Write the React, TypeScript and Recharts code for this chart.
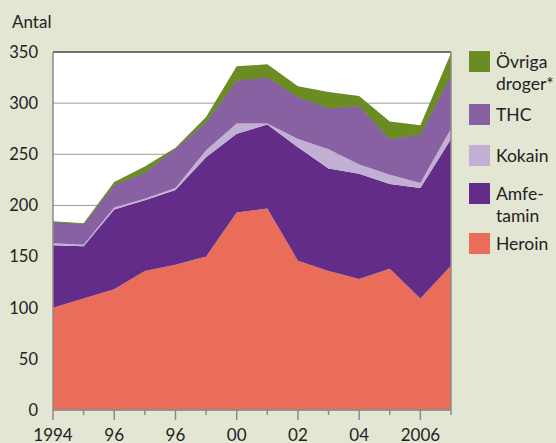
import React from 'react';
import { AreaChart, Area, XAxis, YAxis, CartesianGrid, ReferenceLine } from 'recharts';

const years = [1994, 1995, 1996, 1997, 1998, 1999, 2000, 2001, 2002, 2003, 2004, 2005, 2006, 2007];
const heroin = [100, 109, 118, 136, 142, 150, 193, 197, 146, 136, 128, 138, 109, 141];
const amfetamin = [61, 51, 78, 69, 73, 97, 77, 82, 111, 100, 103, 83, 108, 124];
const kokain = [2, 1.5, 2, 1.5, 2, 7, 10, 1, 8, 19, 9, 9, 5, 10];
const thc = [20.5, 20, 22, 25.5, 38.5, 27, 42, 45, 41, 40, 57, 35, 47, 52];
const ovriga = [1, 1, 3, 6, 1, 5.5, 14, 13, 10.5, 16, 10, 17, 9.5, 22];

const xLabelYears = [1994, 1996, 1998, 2000, 2002, 2004, 2006];
const xLabels = ['1994', '96', '96', '00', '02', '04', '2006'];
const yTicks = [0, 50, 100, 150, 200, 250, 300, 350];

const seriesKeys = ['heroin', 'amfetamin', 'kokain', 'thc', 'ovriga'];
const seriesNames = ['Heroin', 'Amfe-\ntamin', 'Kokain', 'THC', 'Övriga\ndroger*'];
const seriesColors = ['#e96d59', '#632c89', '#c1b0d4', '#8861a3', '#6b8c22'];

const data = years.map((year, i) => ({
  year,
  heroin: heroin[i],
  amfetamin: amfetamin[i],
  kokain: kokain[i],
  thc: thc[i],
  ovriga: ovriga[i],
}));

const FONT = 'Lato, "Open Sans", sans-serif';
const TEXT = '#222';
const AXIS = '#8a8a8a';

const legendOrder = [4, 3, 2, 1, 0];
const legendTops = [51, 104, 145, 183, 233];

function XTick(props: any) {
  const { x, y, payload } = props;
  const idx = xLabelYears.indexOf(payload.value);
  const major = idx >= 0;
  return (
    <g>
      <line x1={x} x2={x} y1={y} y2={y + (major ? 10 : 5)} stroke={AXIS} strokeWidth={1.5} />
      {major && (
        <text x={x} y={y + 30.5} textAnchor="middle" fontSize={17} fontFamily={FONT} fill={TEXT}>
          {xLabels[idx]}
        </text>
      )}
    </g>
  );
}

export default function App() {
  return (
    <div
      style={{
        position: 'absolute',
        left: 0,
        top: 0,
        width: 556,
        height: 443,
        background: '#e2e6d3',
        overflow: 'hidden',
        fontFamily: FONT,
      }}
    >
      <div style={{ position: 'absolute', left: 12, top: 11, fontSize: 17, color: TEXT }}>Antal</div>
      <AreaChart width={556} height={443} data={data} margin={{ top: 52, right: 105, bottom: 0, left: 0 }}>
        <CartesianGrid vertical={false} stroke="#9a9a9a" fill="#ffffff" />
        <XAxis
          dataKey="year"
          type="number"
          domain={[1994, 2007]}
          ticks={years}
          interval={0}
          height={33}
          tickLine={false}
          tickSize={0}
          tickMargin={0}
          axisLine={{ stroke: AXIS, strokeWidth: 1.5 }}
          tick={<XTick />}
        />
        <YAxis
          width={53}
          domain={[0, 350]}
          ticks={yTicks}
          interval={0}
          tickLine={false}
          tickSize={0}
          tickMargin={15}
          axisLine={{ stroke: AXIS, strokeWidth: 1.5 }}
          tick={{ fontSize: 16.5, fontFamily: FONT, fill: TEXT }}
        />
        {seriesKeys.map((k, i) => (
          <Area
            key={k}
            dataKey={k}
            stackId="1"
            type="linear"
            fill={seriesColors[i]}
            fillOpacity={1}
            stroke={k === 'thc' ? '#6d5a7a' : 'none'}
            strokeWidth={k === 'thc' ? 0.7 : 0}
            isAnimationActive={false}
            dot={false}
            activeDot={false}
          />
        ))}
        <ReferenceLine y={350} stroke="#555" strokeWidth={1.5} />
        <ReferenceLine x={2007} stroke={AXIS} strokeWidth={1.5} />
      </AreaChart>
      {legendOrder.map((si, j) => (
        <div key={seriesKeys[si]} style={{ position: 'absolute', left: 469, top: legendTops[j], display: 'flex' }}>
          <div style={{ width: 21, height: 21, background: seriesColors[si], flexShrink: 0 }} />
          <div
            style={{
              marginLeft: 6,
              fontSize: 17.5,
              lineHeight: '22px',
              color: TEXT,
              whiteSpace: 'pre-line',
            }}
          >
            {seriesNames[si]}
          </div>
        </div>
      ))}
    </div>
  );
}
